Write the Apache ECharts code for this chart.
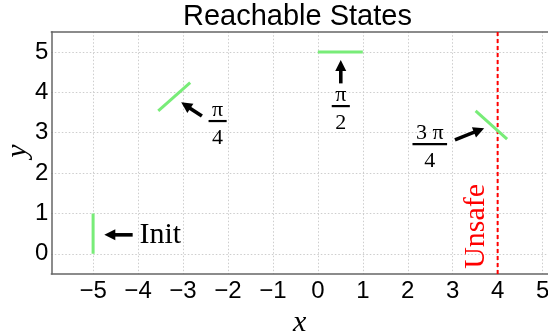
<!DOCTYPE html>
<html>
<head>
<meta charset="utf-8">
<script src="https://cdn.jsdelivr.net/npm/echarts@6/dist/echarts.min.js"></script>
<style>
  html, body { margin: 0; padding: 0; background: #fff; }
  #chart { width: 548px; height: 331px; }
</style>
</head>
<body>
<div id="chart"></div>
<script>
// reachable set segments (x, y)
const initSeg = [[-5, 0], [-5, 1]];
const quarterSeg = [[-3.55, 3.54], [-2.84, 4.24]];
const halfSeg = [[0, 5], [1, 5]];
const threeQuarterSeg = [[3.51, 3.54], [4.21, 2.84]];
const unsafeX = 4;

// arrows: tail x, tail y, head x, head y
const arrows = [
  [-4.12, 0.47, -4.75, 0.47],
  [-2.58, 3.41, -3.04, 3.75],
  [0.51, 4.22, 0.51, 4.8],
  [3.05, 2.82, 3.70, 3.11]
];

// angle labels as fractions
const fractionPos = [[-2.23, 3.29], [0.51, 3.66], [2.49, 2.72]];
const fractionNum = ['π', 'π', '3 π'];
const fractionDen = ['4', '2', '4'];

const initLabelPos = [[-3.97, 0.47]];
const unsafeLabelPos = [[3.51, 0.68]];

const xRange = [-5.93, 5.12];
const yRange = [-0.5, 5.5];

const serif = '"Liberation Serif", "DejaVu Serif", serif';
const sans = '"Liberation Sans", Arial, sans-serif';
const green = '#78ec78';

const measureCtx = document.createElement('canvas').getContext('2d');

function renderArrow(params, api) {
  const t = api.coord([api.value(0), api.value(1)]);
  const h = api.coord([api.value(2), api.value(3)]);
  const dx = h[0] - t[0], dy = h[1] - t[1];
  const len = Math.hypot(dx, dy);
  const ux = dx / len, uy = dy / len;
  const px = -uy, py = ux;
  const headLen = 11, headW = 5.5;
  const bx = h[0] - ux * headLen, by = h[1] - uy * headLen;
  return {
    type: 'group',
    children: [
      {type: 'line', shape: {x1: t[0], y1: t[1], x2: bx + ux, y2: by + uy},
        style: {stroke: '#000', lineWidth: 3.6}},
      {type: 'polygon',
        shape: {points: [h, [bx + px * headW, by + py * headW], [bx - px * headW, by - py * headW]]},
        style: {fill: '#000'}}
    ]
  };
}

function renderFraction(params, api) {
  const c = api.coord([api.value(0), api.value(1)]);
  const num = fractionNum[params.dataIndex];
  const den = fractionDen[params.dataIndex];
  const font = '22px ' + serif;
  measureCtx.font = font;
  const w = Math.max(measureCtx.measureText(num).width, measureCtx.measureText(den).width) + 7;
  return {
    type: 'group',
    children: [
      {type: 'text', x: c[0], y: c[1] - 11,
        style: {text: num, font: font, fill: '#000', align: 'center', verticalAlign: 'middle'}},
      {type: 'rect', shape: {x: c[0] - w / 2, y: c[1] - 1, width: w, height: 2.2},
        style: {fill: '#000'}},
      {type: 'text', x: c[0], y: c[1] + 17,
        style: {text: den, font: font, fill: '#000', align: 'center', verticalAlign: 'middle'}}
    ]
  };
}

function renderInit(params, api) {
  const c = api.coord([api.value(0), api.value(1)]);
  return {type: 'text', x: c[0], y: c[1],
    style: {text: 'Init', font: '30px ' + serif, fill: '#000', align: 'left', verticalAlign: 'middle'}};
}

function renderUnsafe(params, api) {
  const c = api.coord([api.value(0), api.value(1)]);
  return {type: 'text', x: c[0], y: c[1], rotation: Math.PI / 2,
    style: {text: 'Unsafe', font: '30px ' + serif, fill: '#ff0000', align: 'center', verticalAlign: 'middle'}};
}

function segment(data) {
  return {type: 'line', data: data, symbol: 'none', silent: true,
    lineStyle: {color: green, width: 3}, z: 3};
}

const chart = echarts.init(document.getElementById('chart'), null, {renderer: 'canvas'});

const option = {
  animation: false,
  backgroundColor: '#fff',
  title: {
    text: 'Reachable States',
    left: 183, top: 2, padding: 0,
    textStyle: {fontFamily: sans, fontSize: 29, fontWeight: 'normal', color: '#000'}
  },
  // y axis title placed by hand, the axis name ignores small gaps
  graphic: [{
    type: 'text', x: 18, y: 151, rotation: Math.PI / 2,
    style: {text: 'y', font: 'italic 30px ' + serif, fill: '#000', align: 'center', verticalAlign: 'middle'}
  }],
  grid: {left: 51.3, right: 0, top: 31.7, bottom: 57, containLabel: false, outerBoundsMode: 'none'},
  xAxis: [{
    type: 'value', min: xRange[0], max: xRange[1], splitNumber: 11,
    name: 'x', nameLocation: 'middle', nameGap: 26,
    nameTextStyle: {fontFamily: serif, fontStyle: 'italic', fontSize: 30, color: '#000'},
    axisLine: {onZero: false, lineStyle: {color: '#666', width: 1.5}},
    axisTick: {show: false},
    axisLabel: {showMinLabel: false, showMaxLabel: false, margin: 5, color: '#000',
      fontFamily: sans, fontSize: 24,
      formatter: v => (v < 0 ? '\u2212' + Math.abs(v) : String(v))},
    splitLine: {showMinLine: false, showMaxLine: false, lineStyle: {color: '#cdcdcd', type: [1.5, 2], width: 1}}
  }, {
    type: 'value', position: 'top', min: xRange[0], max: xRange[1],
    axisLine: {show: true, onZero: false, lineStyle: {color: '#666', width: 1.5}},
    axisTick: {show: false}, axisLabel: {show: false}, splitLine: {show: false}
  }],
  yAxis: {
    type: 'value', min: yRange[0], max: yRange[1], splitNumber: 6,
    axisLine: {show: true, onZero: false, lineStyle: {color: '#666', width: 1.5}},
    axisTick: {show: false},
    axisLabel: {showMinLabel: false, showMaxLabel: false, margin: 3, color: '#000',
      fontFamily: sans, fontSize: 24},
    splitLine: {showMinLine: false, showMaxLine: false, lineStyle: {color: '#cdcdcd', type: [1.5, 2], width: 1}}
  },
  series: [
    segment(initSeg),
    segment(quarterSeg),
    segment(halfSeg),
    segment(threeQuarterSeg),
    {type: 'line', data: [[unsafeX, yRange[0]], [unsafeX, yRange[1]]], symbol: 'none', silent: true,
      lineStyle: {color: '#ff0000', width: 2, type: [4, 3]}, z: 2},
    {type: 'custom', renderItem: renderArrow, data: arrows, encode: {x: [0, 2], y: [1, 3]}, z: 5, silent: true},
    {type: 'custom', renderItem: renderFraction, data: fractionPos, encode: {x: 0, y: 1}, z: 5, silent: true},
    {type: 'custom', renderItem: renderInit, data: initLabelPos, encode: {x: 0, y: 1}, z: 5, silent: true},
    {type: 'custom', renderItem: renderUnsafe, data: unsafeLabelPos, encode: {x: 0, y: 1}, z: 5, silent: true}
  ]
};

chart.setOption(option);
</script>
</body>
</html>
